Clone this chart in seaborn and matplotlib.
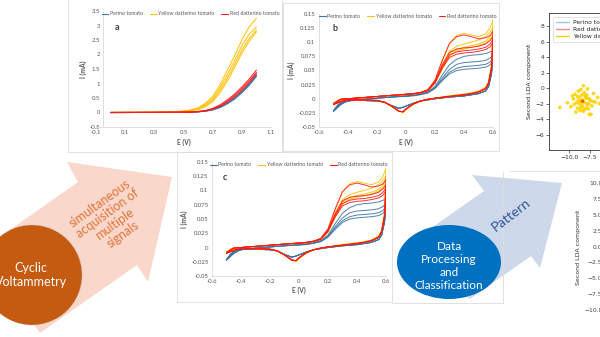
import numpy as np
import pandas as pd
import matplotlib
matplotlib.use("Agg")
import matplotlib.pyplot as plt
import seaborn as sns
from matplotlib.patches import Polygon, Ellipse, Rectangle
from matplotlib.lines import Line2D

sns.set_theme(style="white")
plt.rcParams["font.family"] = ["Lato", "DejaVu Sans"]

# ---------------- data ----------------
groups = ["Perino tomato", "Yellow datterino tomato", "Red datterino tomato"]
colors_cv = ["#3d74a3", "#ffc000", "#ff1a1a"]

# panel a: linear sweep
E_lsv = [0.0, 0.1, 0.2, 0.3, 0.4, 0.45, 0.5, 0.55, 0.6, 0.65, 0.7, 0.75, 0.8, 0.85, 0.9, 0.95, 1.0]
lsv_perino = [
    [0, 0.001, 0.002, 0.004, 0.008, 0.010, 0.012, 0.016, 0.025, 0.048, 0.095, 0.18, 0.31, 0.48, 0.70, 0.96, 1.28],
    [0, 0.001, 0.002, 0.004, 0.008, 0.010, 0.012, 0.016, 0.026, 0.050, 0.10, 0.19, 0.33, 0.50, 0.73, 0.99, 1.31],
    [0, 0.001, 0.002, 0.004, 0.008, 0.010, 0.012, 0.015, 0.024, 0.046, 0.09, 0.17, 0.30, 0.46, 0.68, 0.93, 1.24],
]
lsv_yellow = [
    [0, 0.002, 0.005, 0.01, 0.02, 0.03, 0.05, 0.09, 0.16, 0.32, 0.55, 0.95, 1.45, 1.95, 2.50, 2.95, 3.25],
    [0, 0.002, 0.005, 0.01, 0.02, 0.03, 0.045, 0.08, 0.14, 0.28, 0.48, 0.85, 1.30, 1.78, 2.30, 2.70, 2.95],
    [0, 0.002, 0.005, 0.01, 0.02, 0.025, 0.04, 0.07, 0.12, 0.24, 0.42, 0.76, 1.18, 1.65, 2.15, 2.55, 2.85],
    [0, 0.002, 0.005, 0.01, 0.015, 0.025, 0.035, 0.06, 0.10, 0.20, 0.37, 0.68, 1.08, 1.55, 2.05, 2.45, 2.78],
]
lsv_red = [
    [0, 0.001, 0.003, 0.005, 0.01, 0.012, 0.015, 0.02, 0.035, 0.07, 0.14, 0.26, 0.43, 0.63, 0.88, 1.15, 1.46],
    [0, 0.001, 0.003, 0.005, 0.01, 0.012, 0.013, 0.018, 0.03, 0.06, 0.12, 0.23, 0.39, 0.58, 0.82, 1.08, 1.38],
    [0, 0.001, 0.003, 0.005, 0.01, 0.011, 0.012, 0.016, 0.028, 0.055, 0.11, 0.21, 0.36, 0.54, 0.77, 1.03, 1.33],
]

# panels b and c: cyclic voltammograms
E_fwd = [-0.5, -0.47, -0.45, -0.4, -0.3, -0.2, -0.1, 0.0, 0.05, 0.1, 0.15, 0.2, 0.25, 0.3, 0.35, 0.4, 0.45, 0.5, 0.55, 0.58, 0.6]
cv_perino_fwd = [
    [-0.022, -0.012, -0.008, -0.004, -0.001, 0.001, 0.003, 0.005, 0.006, 0.008, 0.012, 0.022, 0.042, 0.060, 0.070, 0.075, 0.077, 0.078, 0.080, 0.083, 0.086],
    [-0.022, -0.012, -0.008, -0.004, -0.001, 0.001, 0.003, 0.005, 0.006, 0.008, 0.011, 0.020, 0.037, 0.052, 0.061, 0.064, 0.065, 0.066, 0.068, 0.072, 0.078],
    [-0.021, -0.011, -0.007, -0.004, -0.001, 0.001, 0.003, 0.005, 0.006, 0.008, 0.011, 0.019, 0.034, 0.047, 0.054, 0.057, 0.058, 0.059, 0.061, 0.065, 0.072],
    [-0.021, -0.011, -0.007, -0.004, -0.001, 0.001, 0.003, 0.004, 0.005, 0.007, 0.010, 0.018, 0.032, 0.044, 0.050, 0.052, 0.053, 0.054, 0.056, 0.060, 0.068],
]
cv_yellow_fwd = [
    [-0.008, -0.003, -0.001, 0.000, 0.002, 0.004, 0.006, 0.008, 0.009, 0.011, 0.016, 0.032, 0.066, 0.098, 0.112, 0.116, 0.113, 0.110, 0.115, 0.125, 0.140],
    [-0.008, -0.003, -0.001, 0.000, 0.002, 0.004, 0.006, 0.008, 0.009, 0.011, 0.015, 0.029, 0.058, 0.084, 0.093, 0.097, 0.100, 0.104, 0.110, 0.118, 0.126],
    [-0.008, -0.003, -0.001, 0.000, 0.002, 0.004, 0.006, 0.008, 0.009, 0.011, 0.015, 0.028, 0.055, 0.080, 0.088, 0.091, 0.094, 0.097, 0.102, 0.110, 0.118],
    [-0.007, -0.003, -0.001, 0.000, 0.002, 0.004, 0.006, 0.007, 0.008, 0.010, 0.014, 0.027, 0.053, 0.077, 0.085, 0.088, 0.091, 0.094, 0.099, 0.106, 0.112],
]
cv_red_fwd = [
    [-0.010, -0.004, -0.001, 0.000, 0.002, 0.004, 0.006, 0.008, 0.009, 0.011, 0.016, 0.033, 0.068, 0.098, 0.110, 0.113, 0.110, 0.106, 0.108, 0.112, 0.120],
    [-0.010, -0.004, -0.001, 0.000, 0.002, 0.004, 0.006, 0.008, 0.009, 0.011, 0.015, 0.030, 0.060, 0.082, 0.088, 0.090, 0.091, 0.093, 0.097, 0.103, 0.110],
    [-0.009, -0.004, -0.001, 0.000, 0.002, 0.004, 0.006, 0.008, 0.009, 0.011, 0.015, 0.029, 0.057, 0.077, 0.083, 0.085, 0.086, 0.088, 0.091, 0.097, 0.105],
    [-0.009, -0.004, -0.001, 0.000, 0.002, 0.004, 0.006, 0.007, 0.008, 0.010, 0.014, 0.028, 0.054, 0.073, 0.079, 0.081, 0.082, 0.084, 0.087, 0.092, 0.100],
]
E_rev = [0.59, 0.57, 0.55, 0.5, 0.45, 0.4, 0.3, 0.2, 0.15, 0.1, 0.05, 0.0, -0.02, -0.05, -0.1, -0.15, -0.2, -0.3, -0.4, -0.45, -0.5]
cv_perino_rev = [0.045, 0.022, 0.014, 0.009, 0.007, 0.005, 0.003, 0.000, -0.002, -0.004, -0.008, -0.013, -0.015, -0.017, -0.012, -0.006, -0.004, -0.003, -0.003, -0.010, -0.022]
cv_yellow_rev = [0.060, 0.030, 0.020, 0.013, 0.010, 0.008, 0.005, 0.001, -0.001, -0.004, -0.010, -0.019, -0.024, -0.022, -0.013, -0.006, -0.003, -0.002, -0.001, -0.004, -0.008]
cv_red_rev = [0.055, 0.028, 0.018, 0.012, 0.009, 0.007, 0.004, 0.001, -0.001, -0.004, -0.009, -0.018, -0.023, -0.022, -0.013, -0.006, -0.003, -0.002, -0.002, -0.005, -0.010]

a_xticks = [-0.1, 0.1, 0.3, 0.5, 0.7, 0.9, 1.1]
a_xlabels = ["-0.1", "0.1", "0.3", "0.5", "0.7", "0.9", "1.1"]
a_yticks = [-0.5, 0, 0.5, 1, 1.5, 2, 2.5, 3, 3.5]
a_ylabels = ["-0.5", "0", "0.5", "1", "1.5", "2", "2.5", "3", "3.5"]
cv_xticks = [-0.6, -0.4, -0.2, 0, 0.2, 0.4, 0.6]
cv_xlabels = ["-0.6", "-0.4", "-0.2", "0", "0.2", "0.4", "0.6"]
cv_yticks = [-0.05, -0.025, 0, 0.025, 0.05, 0.075, 0.1, 0.125, 0.15]
cv_ylabels = ["-0.05", "-0.025", "0", "0.025", "0.05", "0.075", "0.1", "0.125", "0.15"]

# LDA scores (yellow datterino cluster) and centroid
lda_x = [-11.1, -10.2, -9.8, -9.5, -9.3, -9.1, -9.0, -8.9, -8.8, -8.7, -8.6, -8.5, -8.5, -8.4, -8.3, -8.2,
         -8.1, -8.0, -7.9, -7.8, -7.7, -7.6, -7.5, -7.3, -7.1, -6.9, -6.6, -6.4, -9.6, -9.2, -8.9, -8.6,
         -8.3, -8.0, -7.7, -7.4, -8.8, -8.2, -7.9, -9.4, -8.4, -8.1, -7.6, -9.0, -8.6, -8.3, -7.8, -7.2]
lda_y = [-2.5, -1.9, -2.4, -1.4, -0.8, -1.9, -2.6, -0.4, -1.2, -2.9, -1.7, -0.9, -2.2, -1.5, -3.0, -0.6,
         -1.9, -2.6, -1.2, -0.1, -2.0, -3.4, -1.6, -2.3, -0.7, -1.8, -1.2, -2.0, -1.0, -3.1, -1.6, -0.2,
         0.3, -1.3, -2.7, -3.4, -2.0, -2.8, -0.9, -2.1, -2.4, -1.0, -1.4, -1.1, -2.5, -1.8, -2.2, -1.7]
lda_centroid = [-8.4, -1.7]
lda_groups = ["Perino tomato", "Red datterino tomato", "Yellow datterino tomato"]
lda_colors = ["#9ec5ea", "#f08a8a", "#ffd200"]
lda1_yticks = [-6, -4, -2, 0, 2, 4, 6, 8]
lda1_xticks = [-10.0, -7.5, -5.0, -2.5, 0.0, 2.5, 5.0]
lda2_yticks = [-10.0, -7.5, -5.0, -2.5, 0.0, 2.5, 5.0, 7.5, 10.0]

# ---------------- figure ----------------
W, H = 600, 337
fig = plt.figure(figsize=(6, 3.37), dpi=100)
fig.patch.set_facecolor("white")
bg = fig.add_axes([0, 0, 1, 1])
bg.set_xlim(0, W)
bg.set_ylim(H, 0)
bg.axis("off")


def px_axes(l, t, r, b):
    return fig.add_axes([l / W, 1 - b / H, (r - l) / W, (b - t) / H])


frame_c = "#dcdcdc"
# panel frames and separators
bg.add_patch(Rectangle((68, -2), 214, 154, fill=False, ec=frame_c, lw=0.6))
bg.add_patch(Rectangle((283, 3), 216, 148, fill=False, ec=frame_c, lw=0.6))
bg.add_patch(Rectangle((177, 152), 215, 150, fill=False, ec=frame_c, lw=0.6))
bg.plot([510, 600], [171, 171], color=frame_c, lw=0.6)
bg.plot([503, 503], [172, 303], color=frame_c, lw=0.6)
bg.plot([392, 503], [303, 303], color=frame_c, lw=0.6)

# pink arrow + orange circle
bg.add_patch(Polygon([(-20, 251), (78, 182), (67, 162), (172, 177), (148, 282), (137, 265), (40, 333)],
                     closed=True, fc="#f9d8cb", ec="none"))
bg.add_patch(Ellipse((32, 275), 100, 100, fc="#c55a11", ec="#bfbfbf", lw=0.5, ls=(0, (2, 2))))
bg.text(31, 275, "Cyclic\nVoltammetry", color="white", fontsize=9, ha="center", va="center", linespacing=1.25)
bg.text(111, 219, "simultaneous\nacquisition of\nmultiple\nsignals", color="#e2743a", fontsize=9,
        ha="center", va="center", rotation=36, rotation_mode="anchor", linespacing=1.1)

# blue arrow + blue ellipse
bg.add_patch(Polygon([(400, 250), (484, 191), (472, 175), (562, 183), (540, 268), (531, 256), (470, 299)],
                     closed=True, fc="#cdd9ea", ec="none"))
bg.add_patch(Ellipse((449, 262), 104, 74, fc="#0070c0", ec="none"))
bg.text(449, 266, "Data\nProcessing\nand\nClassification", color="white", fontsize=8.5,
        ha="center", va="center", linespacing=1.22)
bg.text(511, 215, "Pattern", color="#2f5597", fontsize=10, ha="center", va="center",
        rotation=38, rotation_mode="anchor")

palette = dict(zip(groups, colors_cv))
tick_c = "#595959"


def long_df(pairs):
    rows = []
    for gname, curves in pairs:
        for k, (ex, iy) in enumerate(curves):
            for j, (e, i) in enumerate(zip(ex, iy)):
                rows.append((gname, f"{gname}-{k}", j, e, i))
    return pd.DataFrame(rows, columns=["group", "curve", "order", "E", "I"])


def style_excel(ax, xlim, ylim, xt, xl, yt, yl, letter, lx, ly, leg_xy):
    ax.set_facecolor("none")
    ax.set_xlim(xlim)
    ax.set_ylim(ylim)
    ax.set_xticks(xt)
    ax.set_xticklabels(xl)
    ax.set_yticks(yt)
    ax.set_yticklabels(yl)
    for s in ["top", "right"]:
        ax.spines[s].set_visible(False)
    for s in ["left", "bottom"]:
        ax.spines[s].set_color("#d9d9d9")
        ax.spines[s].set_linewidth(0.6)
    ax.tick_params(length=0, labelsize=4.3, colors=tick_c, pad=2.5)
    ax.set_xlabel("E (V)", fontsize=4.8, color=tick_c, fontweight="bold", labelpad=2)
    ax.set_ylabel("I (mA)", fontsize=4.8, color=tick_c, fontweight="bold", labelpad=2)
    ax.text(lx, ly, letter, transform=ax.transAxes, fontsize=6.5, fontweight="bold", color="#404040")
    handles = [Line2D([0], [0], color=c, lw=0.8) for c in colors_cv]
    ax.legend(handles, groups, loc="center", bbox_to_anchor=leg_xy, ncol=3, frameon=False,
              fontsize=3.8, handlelength=1.3, handletextpad=0.3, columnspacing=1.3,
              labelcolor=tick_c, borderpad=0)
    ax.grid(False)


# panel a
ax_a = px_axes(96, 11, 271, 127)
df_a = long_df([
    (groups[0], [(E_lsv, c) for c in lsv_perino]),
    (groups[1], [(E_lsv, c) for c in lsv_yellow]),
    (groups[2], [(E_lsv, c) for c in lsv_red]),
])
sns.lineplot(data=df_a, x="E", y="I", hue="group", hue_order=groups, units="curve", estimator=None,
             sort=False, palette=palette, lw=0.8, alpha=0.9, ax=ax_a, legend=False)
style_excel(ax_a, (-0.1, 1.1), (-0.5, 3.5), a_xticks, a_xlabels, a_yticks, a_ylabels,
            "a", 0.105, 0.84, (0.54, 0.975))
ax_a.spines["left"].set_position(("data", -0.05))


# panels b and c
def cv_df():
    pairs = []
    for g, fwd, rev in [(groups[0], cv_perino_fwd, cv_perino_rev),
                        (groups[1], cv_yellow_fwd, cv_yellow_rev),
                        (groups[2], cv_red_fwd, cv_red_rev)]:
        pairs.append((g, [(E_fwd + E_rev, f + rev) for f in fwd]))
    return long_df(pairs)


df_cv = cv_df()
for (l, t, r, b), letter, lxy, legxy in [((319, 14, 493, 127), "b", (0.075, 0.85), (0.51, 0.98)),
                                         ((212, 162, 386, 276), "c", (0.06, 0.84), (0.5, 0.975))]:
    ax = px_axes(l, t, r, b)
    sns.lineplot(data=df_cv, x="E", y="I", hue="group", hue_order=groups, units="curve", estimator=None,
                 sort=False, palette=palette, lw=0.7, alpha=0.9, ax=ax, legend=False)
    style_excel(ax, (-0.6, 0.6), (-0.05, 0.15), cv_xticks, cv_xlabels, cv_yticks, cv_ylabels,
                letter, lxy[0], lxy[1], legxy)

# LDA top
lda_font = ["DejaVu Sans"]
ax_l = px_axes(549, 13, 820, 150)
ax_l.set_facecolor("white")
sns.scatterplot(x=lda_x, y=lda_y, color=lda_colors[2], s=7, edgecolor="none", alpha=0.9, ax=ax_l)
sns.scatterplot(x=[lda_centroid[0]], y=[lda_centroid[1]], color="#e8552a", s=6, edgecolor="none", ax=ax_l)
ax_l.set_xlim(-12.4, 19.9)
ax_l.set_ylim(-8.0, 9.7)
ax_l.set_yticks(lda1_yticks)
ax_l.set_xticks(lda1_xticks)
ax_l.set_xticklabels([f"{v:.1f}".replace("-", "\u2212") for v in lda1_xticks], family=lda_font)
ax_l.set_yticklabels([f"{v:d}".replace("-", "\u2212") for v in lda1_yticks], family=lda_font)
ax_l.tick_params(length=2, width=0.5, labelsize=4.3, pad=1.5, colors="#333333", left=True, bottom=True)
for s in ax_l.spines.values():
    s.set_color("#333333")
    s.set_linewidth(0.6)
ax_l.set_ylabel("Second LDA component", fontsize=4.5, family=lda_font, color="#222222", labelpad=2)
handles = [Line2D([0], [0], color=c, lw=1.0) for c in lda_colors]
leg = ax_l.legend(handles, lda_groups, loc="upper left", fontsize=4.3, handlelength=2.2,
                  handletextpad=0.6, borderpad=0.5, labelspacing=0.35, frameon=True, fancybox=True,
                  prop={"family": lda_font, "size": 4.3}, bbox_to_anchor=(0.005, 0.995))
leg.get_frame().set_edgecolor("#cccccc")
leg.get_frame().set_linewidth(0.5)
ax_l.grid(False)

# LDA bottom (only left edge visible)
ax_m = px_axes(607, 170, 900, 325)
ax_m.set_facecolor("white")
ax_m.set_ylim(-12.36, 12.05)
ax_m.set_xlim(0, 1)
ax_m.set_xticks([])
ax_m.set_yticks(lda2_yticks)
ax_m.set_yticklabels([f"{v:.1f}".replace("-", "\u2212") for v in lda2_yticks], family=lda_font)
ax_m.tick_params(length=2, width=0.5, labelsize=4.3, pad=1.5, colors="#444444", left=True)
ax_m.set_ylabel("Second LDA component", fontsize=4.5, family=lda_font, color="#333333", labelpad=2)
ax_m.grid(False)

fig.savefig("out.png", dpi=100, facecolor="white")
